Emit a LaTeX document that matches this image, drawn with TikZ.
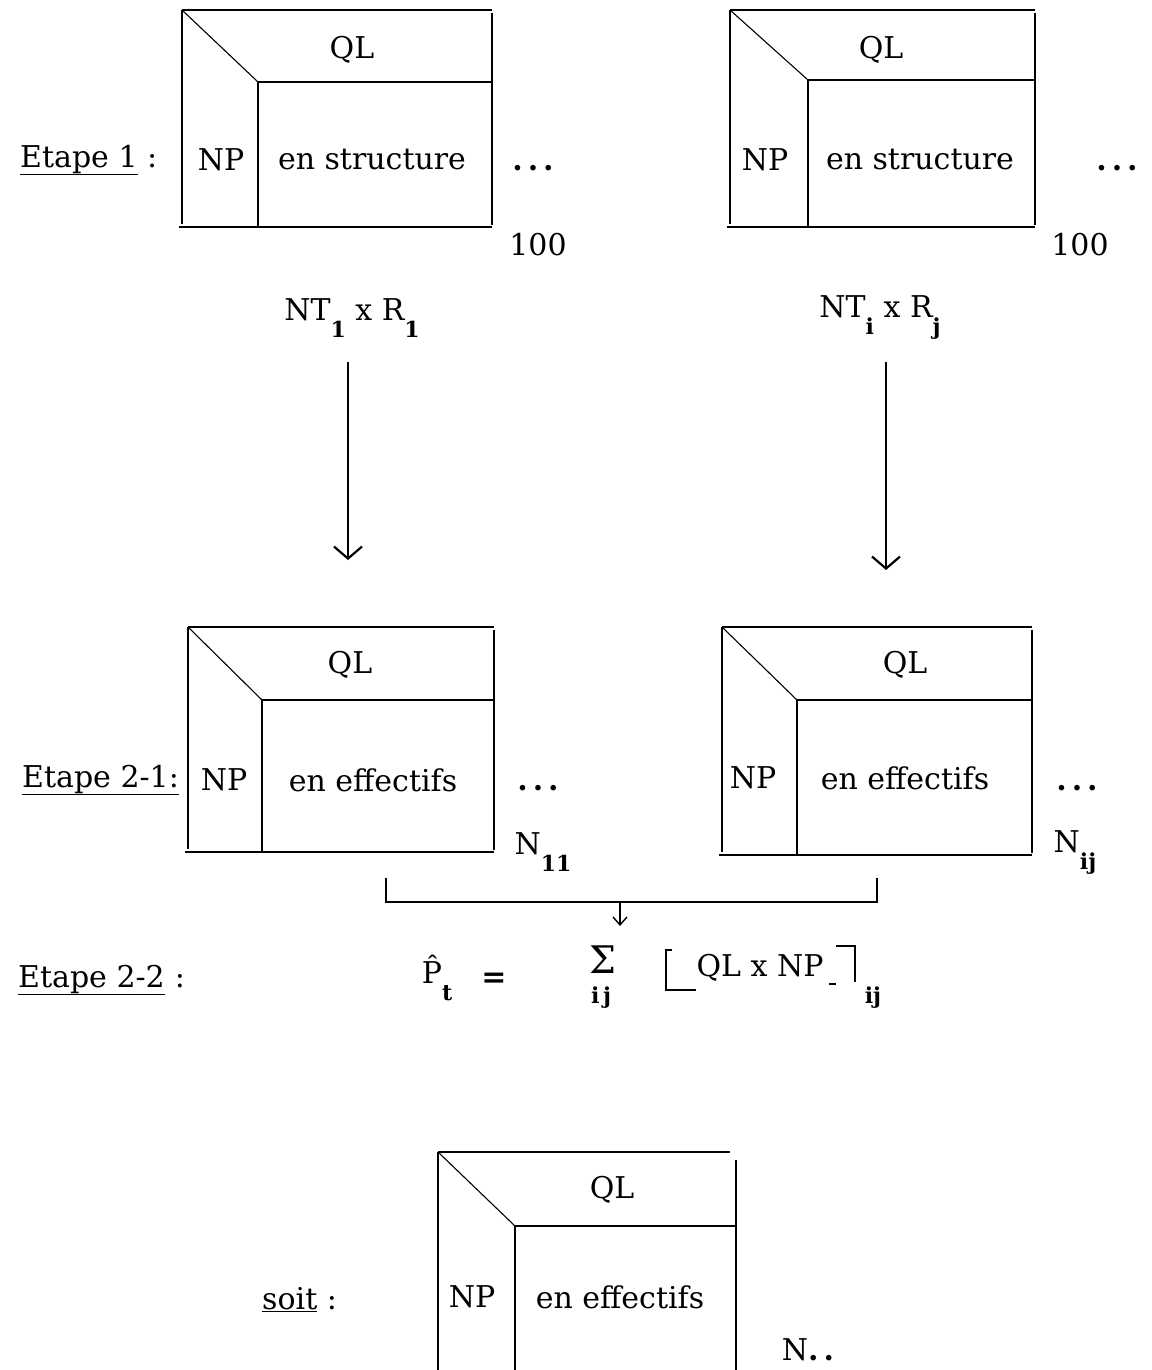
\documentclass[tikz,border=0pt]{standalone}
\usepackage{fontspec}
\setmainfont{DejaVu Serif}
\usetikzlibrary{arrows.meta}
\newcommand{\mysub}[1]{\raisebox{-17pt}{\fontsize{22}{22}\selectfont\bfseries #1}}
\newcommand{\qltab}[6]{% L, T, R, B, divx, divy
  \draw[tline] (#1-3,#4) -- (#3,#4);
  \draw[tline] (#1,#2) -- (#3,#2);
  \draw[tline] (#1,#2) -- (#1,#4-3);
  \draw[tline] (#3,#2+3) -- (#3,#4-2);
  \draw[dline] (#1,#2) -- (#5,#6);
  \draw[tline] (#5,#6) -- (#3,#6);
  \draw[tline] (#5,#6) -- (#5,#4);
}
\begin{document}
\begin{tikzpicture}[x=1pt,y=-1pt,
  tline/.style={line width=1.3pt},
  dline/.style={line width=1.1pt},
  txt/.style={inner sep=0pt, font=\fontsize{30}{36}\selectfont},
  subtxt/.style={inner sep=0pt, font=\fontsize{22}{22}\selectfont\bfseries},
  bigarrow/.style={line width=1.2pt,-{Straight Barb[length=12pt,width=28pt,line width=2.2pt]}},
  smallarrow/.style={line width=1.2pt,-{Straight Barb[length=8pt,width=14pt,line width=1.4pt]}}]
\useasboundingbox (0,0) rectangle (1151,1370);

% ---------- Etape 1 ----------
\node[txt, anchor=west] (e1) at (20,160) {\underline{Etape 1} :};
\qltab{182}{10}{492}{227}{258}{82}
\node[txt] (ql1) at (352,50) {QL};
\node[txt] (np1) at (221,160) {NP};
\node[txt] (c1) at (372,160) {en structure};
\node[txt] (d1) at (533,168) {\bfseries .\,.\,.};
\node[txt] (h1) at (538,245) {100};

\qltab{730}{10}{1035}{227}{808}{80}
\node[txt] (ql2) at (881,50) {QL};
\node[txt] (np2) at (765,160) {NP};
\node[txt] (c2) at (920,160) {en structure};
\node[txt] (d2) at (1117,168) {\bfseries .\,.\,.};
\node[txt] (h2) at (1080,245) {100};

% ---------- transforms ----------
\node[txt] (nt1) at (352,318) {NT\mysub{1} x R\mysub{1}};
\node[txt] (ntij) at (880,318) {NT\mysub{i} x R\mysub{j}};
\coordinate (a1s) at (348,362);
\coordinate (a1e) at (348,560);
\coordinate (a2s) at (886,362);
\coordinate (a2e) at (886,570);
\draw[bigarrow] (a1s) -- (a1e);
\draw[bigarrow] (a2s) -- (a2e);

% ---------- Etape 2-1 ----------
\node[txt, anchor=west] (e21) at (22,780) {\underline{Etape 2-1:}};
\qltab{188}{627}{494}{852}{262}{700}
\node[txt] (ql3) at (350,665) {QL};
\node[txt] (np3) at (224,780) {NP};
\node[txt] (c3) at (373,780) {en effectifs};
\node[txt] (d3) at (538,788) {\bfseries .\,.\,.};
\node[txt] (n11) at (543,852) {N\mysub{11}};

\qltab{722}{627}{1032}{855}{797}{700}
\node[txt] (ql4) at (905,665) {QL};
\node[txt] (np4) at (753,778) {NP};
\node[txt] (c4) at (905,778) {en effectifs};
\node[txt] (d4) at (1077,788) {\bfseries .\,.\,.};
\node[txt] (nij) at (1075,852) {N\mysub{ij}};

% ---------- bracket ----------
\coordinate (bl) at (386,878);
\coordinate (br) at (877,878);
\coordinate (bm) at (620,902);
\coordinate (be) at (620,926);
\draw[tline] (bl) -- (386,902) -- (877,902) -- (br);
\draw[smallarrow] (bm) -- (be);

% ---------- Etape 2-2 ----------
\node[txt, anchor=west] (e22) at (18,980) {\underline{Etape 2-2}\hspace{10pt}:};
\node[txt] (p) at (437,978) {\^{P}\mysub{t}};
\node[txt] (eq) at (494,980) {\bfseries =};
\node[txt, font=\fontsize{38}{40}\selectfont] (sig) at (603,960) {Σ};
\node[subtxt] (sij) at (601,998) {i\,j};
\node[txt] (qlnp) at (760,968) {QL x NP};
\draw[tline] (672,950) -- (666,950) -- (666,990) -- (696,990);
\draw[tline] (836,946) -- (855,946) -- (855,982);
\draw[dline] (829,984) -- (836,984);
\node[subtxt] (bij) at (873,998) {ij};

% ---------- soit ----------
\node[txt, anchor=west] (soit) at (262,1300) {\underline{soit} :};
\draw[tline] (438,1152) -- (730,1152);
\draw[tline] (438,1152) -- (438,1370);
\draw[tline] (736,1160) -- (736,1370);
\draw[dline] (438,1152) -- (515,1226);
\draw[tline] (515,1226) -- (736,1226);
\draw[tline] (515,1226) -- (515,1370);
\node[txt] (ql5) at (612,1190) {QL};
\node[txt] (np5) at (472,1297) {NP};
\node[txt] (c5) at (620,1297) {en effectifs};
\node[txt] (ndd) at (808,1350) {N\bfseries .\,.};
\end{tikzpicture}
\end{document}
